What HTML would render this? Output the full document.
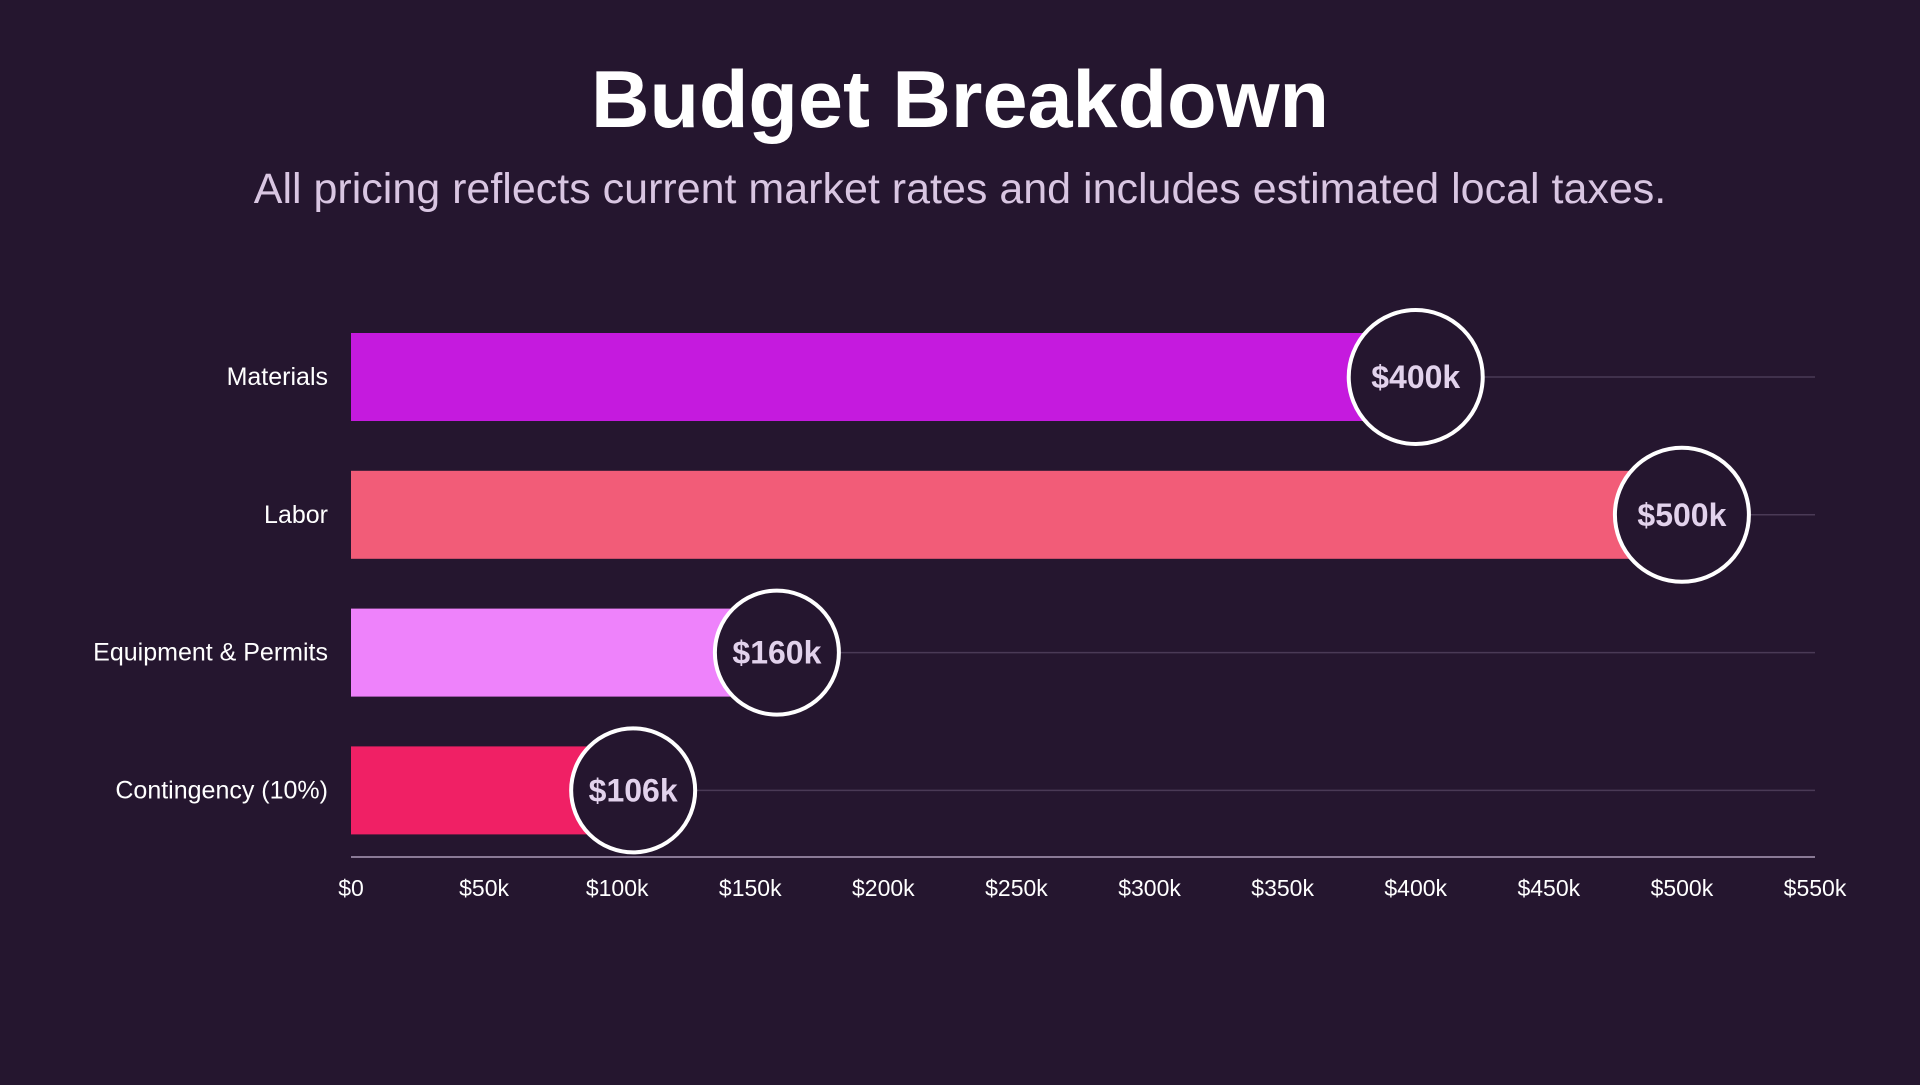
<!DOCTYPE html>
<html><head><meta charset="utf-8">
<style>
html,body{margin:0;padding:0;background:#25162f;}
body{width:1920px;height:1080px;overflow:hidden;font-family:"Liberation Sans",sans-serif;}
</style></head>
<body>
<svg id="chart" width="1920" height="1080" xmlns="http://www.w3.org/2000/svg">
<rect width="1920" height="1080" fill="#25162f"/>
<text x="960" y="127" text-anchor="middle" font-size="81" font-weight="bold" fill="#ffffff" font-family="Liberation Sans, sans-serif">Budget Breakdown</text>
<text x="960" y="203" text-anchor="middle" font-size="43" fill="#d9c6e2" font-family="Liberation Sans, sans-serif">All pricing reflects current market rates and includes estimated local taxes.</text>
<g id="plot"></g>
</svg>
<script>
const categories = ["Materials","Labor","Equipment & Permits","Contingency (10%)"];
const values = [400,500,160,106];
const valueLabels = ["$400k","$500k","$160k","$106k"];
const barColors = ["#c51ade","#f25c78","#ee82fb","#f02065"];
const tickValues = [0,50,100,150,200,250,300,350,400,450,500,550];
const tickLabels = ["$0","$50k","$100k","$150k","$200k","$250k","$300k","$350k","$400k","$450k","$500k","$550k"];

const NS="http://www.w3.org/2000/svg";
const plot=document.getElementById('plot');
const X0=351,X1=1815,maxV=550;
const xs=v=>X0+(v/maxV)*(X1-X0);
const bandTop=333,bandStep=137.8,barH=88;
const ys=i=>bandTop+i*bandStep;
function mk(tag,attrs){const e=document.createElementNS(NS,tag);for(const k in attrs)e.setAttribute(k,attrs[k]);plot.appendChild(e);return e;}

let ax=mk('line',{x1:X0,x2:X1,y1:857,y2:857,stroke:'#8a7a96','stroke-width':2});


tickValues.forEach((t,i)=>{
  const tx=mk('text',{x:xs(t),y:896,'text-anchor':'middle','font-size':23,fill:'#ffffff'});
  tx.textContent=tickLabels[i];
  
  
});
categories.forEach((c,i)=>{
  const y=ys(i),cy=y+barH/2,cx=xs(values[i]);
  const r=values[i]>300?67:62;
  const gl=mk('line',{x1:cx,x2:X1,y1:cy,y2:cy,stroke:'#4a3a56','stroke-width':1.5});
  
  
  const b=mk('rect',{x:X0,y:y,width:cx-X0,height:barH,fill:barColors[i]});
  
  
  const lb=mk('text',{x:328,y:cy+8,'text-anchor':'end','font-size':25,fill:'#ffffff'});
  lb.textContent=c;
  
  
  const ci=mk('circle',{cx:cx,cy:cy,r:r,fill:'#25162f',stroke:'#ffffff','stroke-width':4});
  
  
  const vt=mk('text',{x:cx,y:cy+11,'text-anchor':'middle','font-size':32,'font-weight':'bold',fill:'#e2d2ec'});
  vt.textContent=valueLabels[i];
  
  
});
</script>
</body></html>
